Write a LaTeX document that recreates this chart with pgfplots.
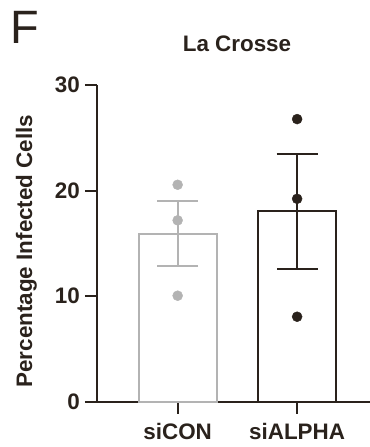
\documentclass[border=0pt]{standalone}
\usepackage{pgfplots}
\pgfplotsset{compat=1.18}
\usepackage{fontspec}
\setmainfont{Liberation Sans}
\definecolor{dark}{HTML}{2A221C}
\definecolor{lgray}{HTML}{B3B3B3}
\begin{document}
\begin{tikzpicture}
\useasboundingbox (0,0) rectangle (370bp,447bp);
\node[anchor=base west, inner sep=0pt, text=dark, font=\fontsize{47}{50}\selectfont] at (10bp,403bp) {F};
\node[anchor=base, inner sep=0pt, text=dark, font=\bfseries\fontsize{22.5}{27}\selectfont] at (237bp,395bp) {La Crosse};
\node[rotate=90, anchor=base, inner sep=0pt, text=dark, font=\bfseries\fontsize{22.5}{27}\selectfont] at (32bp,196bp) {Percentage Infected Cells};
\begin{axis}[
  at={(97bp,45.3bp)}, anchor=south west,
  scale only axis, width=273bp, height=316.7bp,
  xmin=-0.675, xmax=1.61, ymin=0, ymax=30,
  axis x line*=bottom, axis y line*=left,
  axis line style={-, line width=2bp, draw=dark},
  every tick/.style={line width=2bp, draw=dark},
  major tick length=12bp, tick align=outside,
  ytick={0,10,20,30},
  xtick={0,1}, xticklabels={siCON,siALPHA},
  /pgf/number format/assume math mode=true,
  ticklabel style={font=\bfseries\fontsize{22.5}{27}\selectfont, text=dark, inner sep=0pt},
  yticklabel style={xshift=-5bp},
  xticklabel style={yshift=-9bp},
  clip=false,
]
\addplot[ybar, bar width=78bp, bar shift=0pt, fill=white, draw=lgray, line width=2bp] coordinates {(0,15.93)};
\addplot[ybar, bar width=78bp, bar shift=0pt, fill=white, draw=dark, line width=2bp] coordinates {(1,18.03)};
\addplot[draw=none, mark=none, error bars/.cd, y dir=both, y explicit,
  error bar style={line width=2bp, draw=lgray},
  error mark options={rotate=90, mark size=20.5bp, line width=2bp, draw=lgray}]
  coordinates {(0,15.93) +- (0,3.1)};
\addplot[draw=none, mark=none, error bars/.cd, y dir=both, y explicit,
  error bar style={line width=2bp, draw=dark},
  error mark options={rotate=90, mark size=20.5bp, line width=2bp, draw=dark}]
  coordinates {(1,18.03) +- (0,5.43)};
\addplot[only marks, mark=*, mark size=5bp, color=lgray] coordinates {(0,20.55) (0,17.18) (0,10.04)};
\addplot[only marks, mark=*, mark size=5bp, color=dark] coordinates {(1,26.77) (1,19.22) (1,8.05)};
\end{axis}
\end{tikzpicture}
\end{document}
